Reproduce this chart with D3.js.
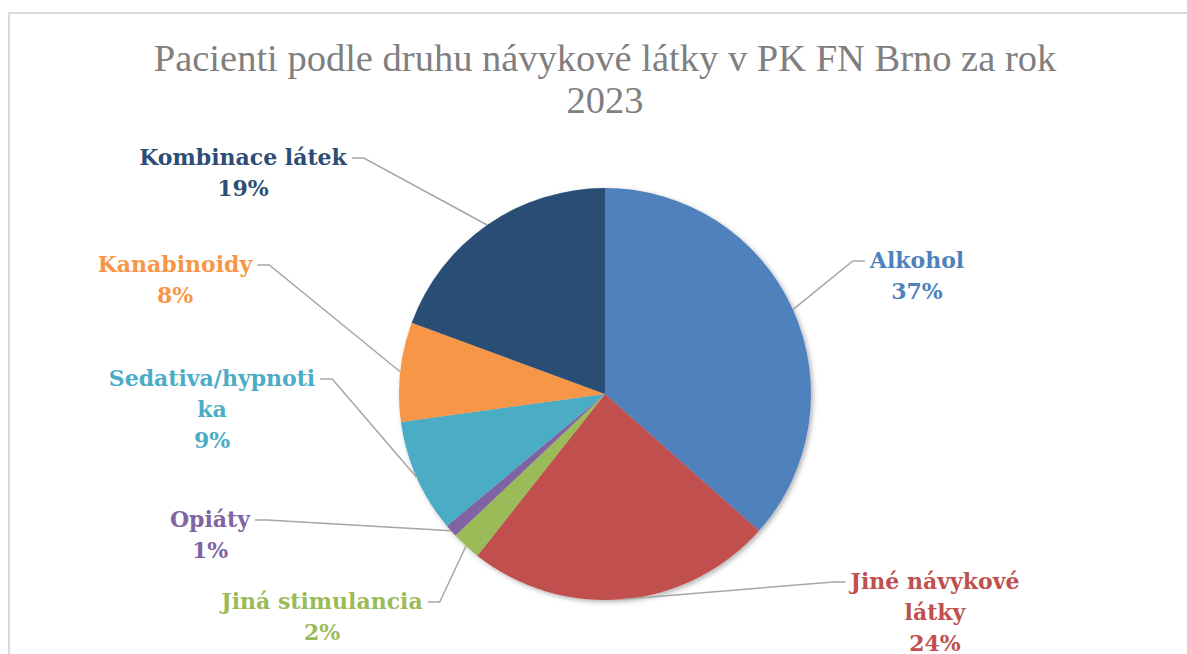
<!DOCTYPE html>
<html>
<head>
<meta charset="utf-8">
<script src="https://cdn.jsdelivr.net/npm/d3@7"></script>
<style>
  body { margin: 0; background: #fff; }
</style>
</head>
<body>
<div id="chart"></div>
<script>
// Data
const categories = ['Alkohol', 'Jiné návykové látky', 'Jiná stimulancia', 'Opiáty', 'Sedativa/hypnotika', 'Kanabinoidy', 'Kombinace látek'];
const shares = [36.6, 24.1, 2.3, 1.0, 8.9, 7.8, 19.4];
// label lines as they are wrapped in the picture
const labelLines = [['Alkohol'], ['Jiné návykové', 'látky'], ['Jiná stimulancia'], ['Opiáty'], ['Sedativa/hypnoti', 'ka'], ['Kanabinoidy'], ['Kombinace látek']];

const palette = ['#4f81bd', '#c0504d', '#9bbb59', '#8064a2', '#4bacc6', '#f79646', '#2c4d75'];

// layout of the data labels: centre x, first baseline, elbow side
const labelLayout = [
    {x: 917, y: 268, side: 'left'},
    {x: 935, y: 589, side: 'left'},
    {x: 322, y: 609, side: 'right'},
    {x: 210, y: 527, side: 'right'},
    {x: 212, y: 386, side: 'right'},
    {x: 175, y: 272, side: 'right'},
    {x: 243, y: 165, side: 'right'}
];

const WIDTH = 1187;
const HEIGHT = 654;
const cx = 605, cy = 394, radius = 206;
const LINE_H = 31;

let svg = d3.select('#chart')
    .append('svg')
    .attr('width', WIDTH)
    .attr('height', HEIGHT);

let defs = svg.append('defs');
let shadow = defs.append('filter').attr('id', 'shadow')
    .attr('x', '-10%').attr('y', '-10%').attr('width', '120%').attr('height', '120%');
shadow.append('feDropShadow')
    .attr('dx', 2).attr('dy', 2).attr('stdDeviation', 2.5)
    .attr('flood-color', '#000').attr('flood-opacity', 0.3);

// chart frame (only top and left edge fit in the window)
svg.append('rect')
    .attr('x', 9)
    .attr('y', 13)
    .attr('width', 1300)
    .attr('height', 800)
    .attr('fill', 'none')
    .attr('stroke', '#d9d9d9')
    .attr('stroke-width', 2);

// Title
let title = svg.append('text')
    .attr('text-anchor', 'middle')
    .attr('font-family', 'Liberation Serif, serif')
    .attr('font-size', '38.5px')
    .attr('fill', '#7f7f7f');
title.append('tspan').attr('x', 605).attr('y', 71).text('Pacienti podle druhu návykové látky v PK FN Brno za rok');
title.append('tspan').attr('x', 605).attr('y', 113).text('2023');

let items = categories.map((c, i) => ({name: c, value: shares[i], lines: labelLines[i], color: palette[i], pos: labelLayout[i]}));

let pie = d3.pie().value(d => d.value).sort(null);
let arcs = pie(items);
let arc = d3.arc().innerRadius(0).outerRadius(radius);

let g = svg.append('g').attr('transform', `translate(${cx},${cy})`);
g.append('g').attr('filter', 'url(#shadow)')
    .selectAll('path')
    .data(arcs)
    .enter()
    .append('path')
    .attr('d', arc)
    .attr('fill', d => d.data.color);

// Leader lines: from the label elbow to the middle of the slice edge
let fmt = d3.format('.0%');
let total = d3.sum(shares);
let edge = d3.arc().innerRadius(radius).outerRadius(radius);

let labels = svg.append('g');
arcs.forEach(a => {
    let p = a.data.pos;
    let [ex, ey] = edge.centroid(a);
    ex += cx; ey += cy;
    let lines = a.data.lines.concat([fmt(a.data.value / total)]);
    let t = labels.append('text')
        .attr('text-anchor', 'middle')
        .attr('font-family', 'DejaVu Serif, serif')
        .attr('font-weight', 'bold')
        .attr('font-size', '22px')
        .attr('fill', a.data.color);
    lines.forEach((l, k) => {
        t.append('tspan').attr('x', p.x).attr('y', p.y + k * LINE_H).text(l);
    });
    // first line width decides where the leader starts
    let w = t.select('tspan').node().getComputedTextLength();
    let sx = p.side === 'right' ? p.x + w / 2 + 5 : p.x - w / 2 - 5;
    let kx = p.side === 'right' ? sx + 12 : sx - 12;
    let sy = p.y - 7;
    labels.append('path')
        .attr('d', d3.line()([[sx, sy], [kx, sy], [ex, ey]]))
        .attr('fill', 'none')
        .attr('stroke', '#a6a6a6')
        .attr('stroke-width', 1.5);
});
</script>
</body>
</html>
